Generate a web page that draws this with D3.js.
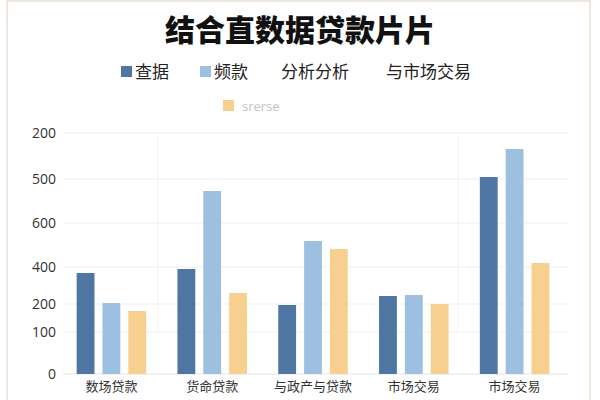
<!DOCTYPE html>
<html><head><meta charset="utf-8">
<script src="https://cdn.jsdelivr.net/npm/d3@7"></script>
<style>body{margin:0;background:#fff}svg{display:block}</style>
</head><body>
<svg id="c" width="600" height="400"></svg>
<script>
const categories = ["数场贷款","货命贷款","与政产与贷款","市场交易","市场交易"];
const seriesNames = ["查据","频款","srerse"];
const series1 = [101,105,69,78,197];
const series2 = [71,183,133,79,225];
const series3 = [63,81,125,70,111];
const tickPositions = [0,42,70,107,151,195,241];
const tickLabels = ["0","100","200","400","600","500","200"];
const legendRow1 = ["查据","频款","分析分析","与市场交易"];
const colors = ["#4f76a3","#9dc0e0","#f7d08f"];

const svg = d3.select("#c");
const font = "'Noto Sans CJK SC','Noto Sans',sans-serif";

// frame
svg.append("rect").attr("x",7).attr("y",1).attr("width",583).attr("height",410)
  .attr("fill","none").attr("stroke","#eadfd2").attr("stroke-width",1.5);

// title
svg.append("text").attr("x",300).attr("y",41).attr("text-anchor","middle")
  .attr("font-family",font).attr("font-weight",900).attr("font-size",30)
  .attr("fill","#111").text("结合直数据贷款片片");

// legend row 1
const legX = [121,200,281,386];
legendRow1.forEach((t,i)=>{
  if(i<2){
    svg.append("rect").attr("x",legX[i]).attr("y",66).attr("width",11).attr("height",11).attr("fill",colors[i]);
    svg.append("text").attr("x",legX[i]+14).attr("y",78).attr("font-family",font).attr("font-size",17).attr("fill","#222").text(t);
  } else {
    svg.append("text").attr("x",legX[i]).attr("y",78).attr("font-family",font).attr("font-size",17).attr("fill","#222").text(t);
  }
});
// legend row 2
svg.append("rect").attr("x",223).attr("y",100).attr("width",11).attr("height",11).attr("fill",colors[2]);
svg.append("text").attr("x",242).attr("y",111).attr("font-family","'Open Sans',sans-serif").attr("font-size",13).attr("fill","#c4c4c4").text(seriesNames[2]);

// scales
const y = d3.scaleLinear().domain([0,241]).range([374,133]);
const x0 = d3.scaleBand().domain(d3.range(categories.length)).range([61,565]);
const x1 = d3.scaleBand().domain([0,1,2]).range([0,69.5]).paddingInner(0.31);
const off = (x0.bandwidth()-69.5)/2;

// gridlines
const g = svg.append("g");
g.selectAll("line.h").data(tickPositions).join("line")
  .attr("x1",63).attr("x2",568).attr("y1",d=>y(d)).attr("y2",d=>y(d))
  .attr("stroke",(d,i)=>i===0?"#e4e4e4":"#efefef").attr("stroke-width",1);
// faint vertical gridlines
[158,458].forEach(xv=>{
  svg.append("line").attr("x1",xv).attr("x2",xv).attr("y1",y(241)).attr("y2",y(42))
    .attr("stroke","#f3f3f3").attr("stroke-width",1);
});

// y axis
const yAxis = d3.axisLeft(y).tickValues(tickPositions).tickFormat((d,i)=>tickLabels[i]).tickSize(0).tickPadding(0);
const ya = svg.append("g").attr("transform","translate(56,0)").call(yAxis);
ya.select(".domain").remove();
ya.selectAll("text").attr("font-family","'Open Sans',sans-serif").attr("font-size",14).attr("fill","#333");

// x axis
const xAxis = d3.axisBottom(x0).tickFormat(i=>categories[i]).tickSize(0).tickPadding(0);
const xa = svg.append("g").attr("transform","translate(0,382)").call(xAxis);
xa.select(".domain").remove();
xa.selectAll("text").attr("font-family",font).attr("font-size",13).attr("fill","#333");

// bars
const data = [series1,series2,series3];
categories.forEach((c,ci)=>{
  data.forEach((s,si)=>{
    svg.append("rect")
      .attr("x",x0(ci)+off+x1(si)).attr("width",x1.bandwidth())
      .attr("y",y(s[ci])).attr("height",y(0)-y(s[ci]))
      .attr("fill",colors[si]);
  });
});
</script>
</body></html>
